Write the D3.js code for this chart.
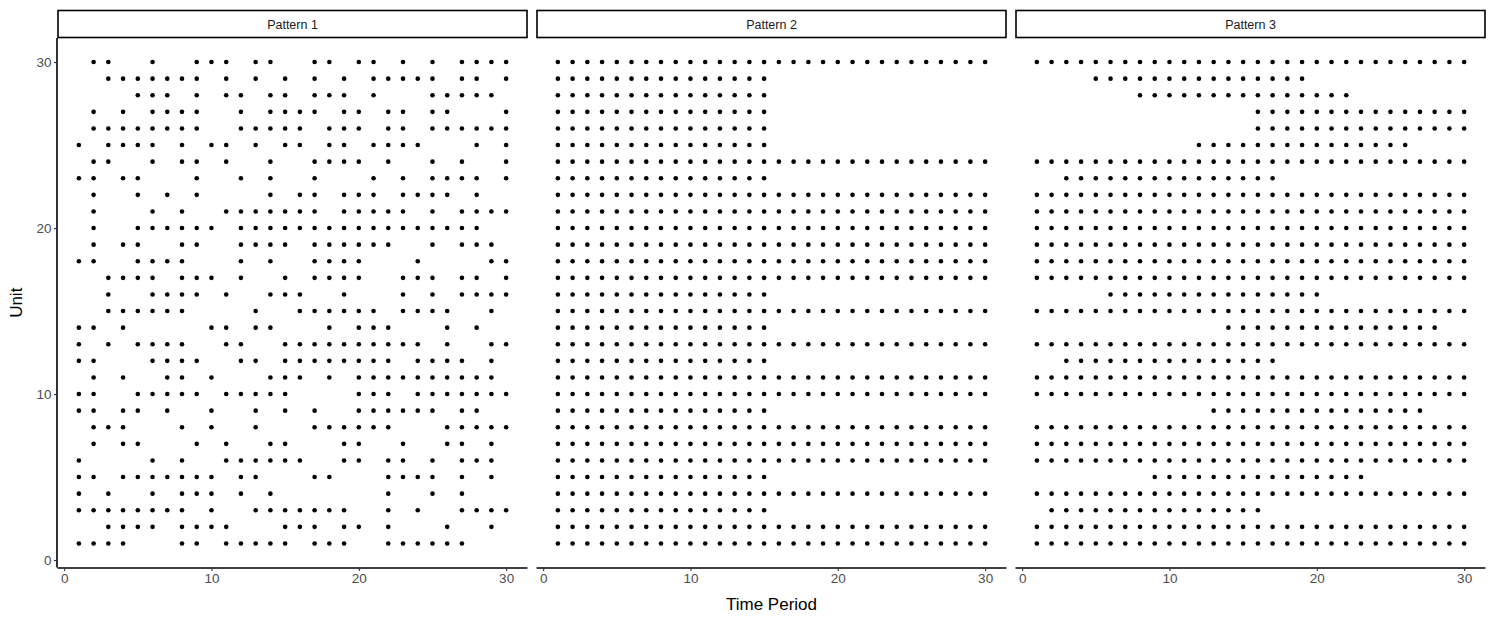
<!DOCTYPE html>
<html><head><meta charset="utf-8">
<script src="https://cdn.jsdelivr.net/npm/d3@7"></script>
<style>body{margin:0;background:#fff}svg{display:block}</style>
</head><body><svg id="c" width="1495" height="623"></svg>
<script>
const panelTitles = ["Pattern 1", "Pattern 2", "Pattern 3"];
const xTicks = [0, 10, 20, 30];
const yTicks = [0, 10, 20, 30];
const units = d3.range(1, 31);

// Pattern 1: observed time periods for each unit (index 0 = unit 1)
const pattern1Periods = [
  [1,2,3,4,8,9,11,12,13,14,15,17,18,19,22,23,24,25,26,27],
  [3,4,5,6,8,9,10,11,15,16,17,19,20,22,26,29],
  [1,2,3,4,5,6,7,8,10,13,14,15,16,17,18,19,22,24,27,28,29,30],
  [1,3,6,8,9,10,12,14,22,25,27],
  [1,2,4,5,6,7,8,9,10,12,13,17,18,22,23,24,25,27,29],
  [1,6,8,11,12,13,14,15,16,19,20,22,23,25,27,28,29],
  [2,4,5,9,11,14,15,19,20,23,26,27,29],
  [2,3,4,8,10,13,17,18,19,20,21,22,26,27,28,29,30],
  [1,2,4,5,7,10,13,15,17,20,21,22,23,24,25,27,28],
  [1,2,5,6,7,8,9,11,12,13,14,15,20,21,22,24,25,26,27,28,29,30],
  [2,4,7,8,10,14,15,16,18,20,21,22,23,24,25,26,27,28,29],
  [1,2,6,7,8,9,12,13,15,16,17,18,19,20,21,22,24,25,26,27,29],
  [1,3,5,6,7,8,11,12,15,16,17,18,19,20,21,22,23,24,26,29,30],
  [1,2,4,10,11,13,14,18,20,21,22,26,28],
  [3,4,5,6,7,8,13,16,17,18,19,20,21,23,24,25,26,29],
  [3,6,7,8,9,11,14,15,16,19,23,25,27,28,29,30],
  [3,4,5,6,8,9,10,12,15,17,18,19,20,23,24,25,27,28,30],
  [1,2,5,6,7,8,12,14,17,18,19,20,24,29,30],
  [2,4,5,8,9,12,13,14,15,17,18,19,20,21,22,25,27,28,29],
  [2,5,6,7,8,9,10,12,13,14,15,16,17,18,19,20,21,22,23,24,25,26,27,28],
  [2,6,8,11,12,13,14,15,16,17,19,20,21,22,23,25,27,28,29,30],
  [2,5,7,9,14,16,17,19,20,21,23,24,25,26,28],
  [1,2,4,5,9,12,14,17,21,23,25,26,27,28,30],
  [2,3,6,8,9,11,14,17,18,19,20,22,25,27,30],
  [1,3,4,5,6,8,10,11,13,15,16,18,19,21,22,23,24,28,30],
  [2,3,4,5,6,7,8,9,12,13,14,15,16,18,19,20,22,23,25,26,27,28,29,30],
  [2,4,6,7,8,9,12,14,15,16,17,19,20,22,23,25,26,30],
  [5,6,7,9,11,12,14,15,17,18,19,21,25,26,27,28,29],
  [3,4,5,6,7,8,9,11,13,15,17,19,21,22,23,24,25,27,28,30],
  [2,3,6,9,10,11,13,14,17,18,20,21,23,25,27,28,29,30]
];

// Pattern 2: first and last observed period per unit (unit 1..30)
const pattern2Start = [1,1,1,1,1,1,1,1,1,1,1,1,1,1,1,1,1,1,1,1,1,1,1,1,1,1,1,1,1,1];
const pattern2End   = [30,30,15,30,15,30,30,30,15,30,30,15,30,15,30,15,30,30,30,30,30,30,15,30,15,15,15,15,15,30];

// Pattern 3: first and last observed period per unit (unit 1..30)
const pattern3Start = [1,1,2,1,9,1,1,1,13,1,1,3,1,14,1,6,1,1,1,1,1,1,3,1,12,16,16,8,5,1];
const pattern3End   = [30,30,16,30,23,30,30,30,27,30,30,17,30,28,30,20,30,30,30,30,30,30,17,30,26,30,30,22,19,30];

function rangeRows(starts, ends) {
  const out = [];
  units.forEach((u, i) => { for (let t = starts[i]; t <= ends[i]; t++) out.push({t, u}); });
  return out;
}
const panelData = [
  pattern1Periods.flatMap((ts, i) => ts.map(t => ({t, u: i + 1}))),
  rangeRows(pattern2Start, pattern2End),
  rangeRows(pattern3Start, pattern3End)
];

const svg = d3.select("#c");
const font = "Liberation Sans, Arial, Helvetica, sans-serif";
const panelLefts = [57.5, 536.5, 1015.5];
const panelW = 470;
const plotTop = 38, plotBottom = 567.5, stripTop = 10;

const y = d3.scaleLinear().domain([-0.45, 31.45]).range([plotBottom, plotTop]);

panelLefts.forEach((left, p) => {
  const x = d3.scaleLinear().domain([-0.45, 31.45]).range([left, left + panelW]);
  const g = svg.append("g");

  // strip
  g.append("rect").attr("x", left + 0.5).attr("y", stripTop + 0.5)
    .attr("width", panelW - 1).attr("height", plotTop - stripTop - 1)
    .attr("fill", "#fff").attr("stroke", "#000").attr("stroke-width", 1.6);
  g.append("text").attr("x", left + panelW / 2).attr("y", (stripTop + plotTop) / 2 + 4.5)
    .attr("text-anchor", "middle").attr("font-family", font).attr("font-size", 12.5)
    .attr("fill", "#1a1a1a").text(panelTitles[p]);

  // points
  g.append("g").selectAll("circle").data(panelData[p]).join("circle")
    .attr("cx", d => x(d.t)).attr("cy", d => y(d.u)).attr("r", 2.3).attr("fill", "#000");

  // x axis
  const xa = g.append("g").attr("transform", `translate(0,${plotBottom})`)
    .call(d3.axisBottom(x).tickValues(xTicks).tickSize(3.5).tickPadding(2.5));
  xa.select(".domain").attr("stroke", "#000").attr("stroke-width", 1.6)
    .attr("d", `M${left},0.5H${left + panelW}`);
  xa.selectAll(".tick line").attr("stroke", "#333").attr("stroke-width", 1.1);
  xa.selectAll(".tick text").attr("font-family", font).attr("font-size", 13.5).attr("fill", "#4d4d4d");

  if (p === 0) {
    const ya = g.append("g").attr("transform", `translate(${left},0)`)
      .call(d3.axisLeft(y).tickValues(yTicks).tickSize(3.5).tickPadding(2.5));
    ya.select(".domain").attr("stroke", "#000").attr("stroke-width", 1.6)
      .attr("d", `M-0.5,${plotTop}V${plotBottom}`);
    ya.selectAll(".tick line").attr("stroke", "#333").attr("stroke-width", 1.1);
    ya.selectAll(".tick text").attr("font-family", font).attr("font-size", 13.5).attr("fill", "#4d4d4d");
  }
});

svg.append("text").attr("x", (panelLefts[0] + panelLefts[2] + panelW) / 2).attr("y", 610)
  .attr("text-anchor", "middle").attr("font-family", font).attr("font-size", 17).attr("fill", "#000")
  .text("Time Period");
svg.append("text").attr("transform", `translate(22,${(plotTop + plotBottom) / 2}) rotate(-90)`)
  .attr("text-anchor", "middle").attr("font-family", font).attr("font-size", 17).attr("fill", "#000")
  .text("Unit");
</script></body></html>
